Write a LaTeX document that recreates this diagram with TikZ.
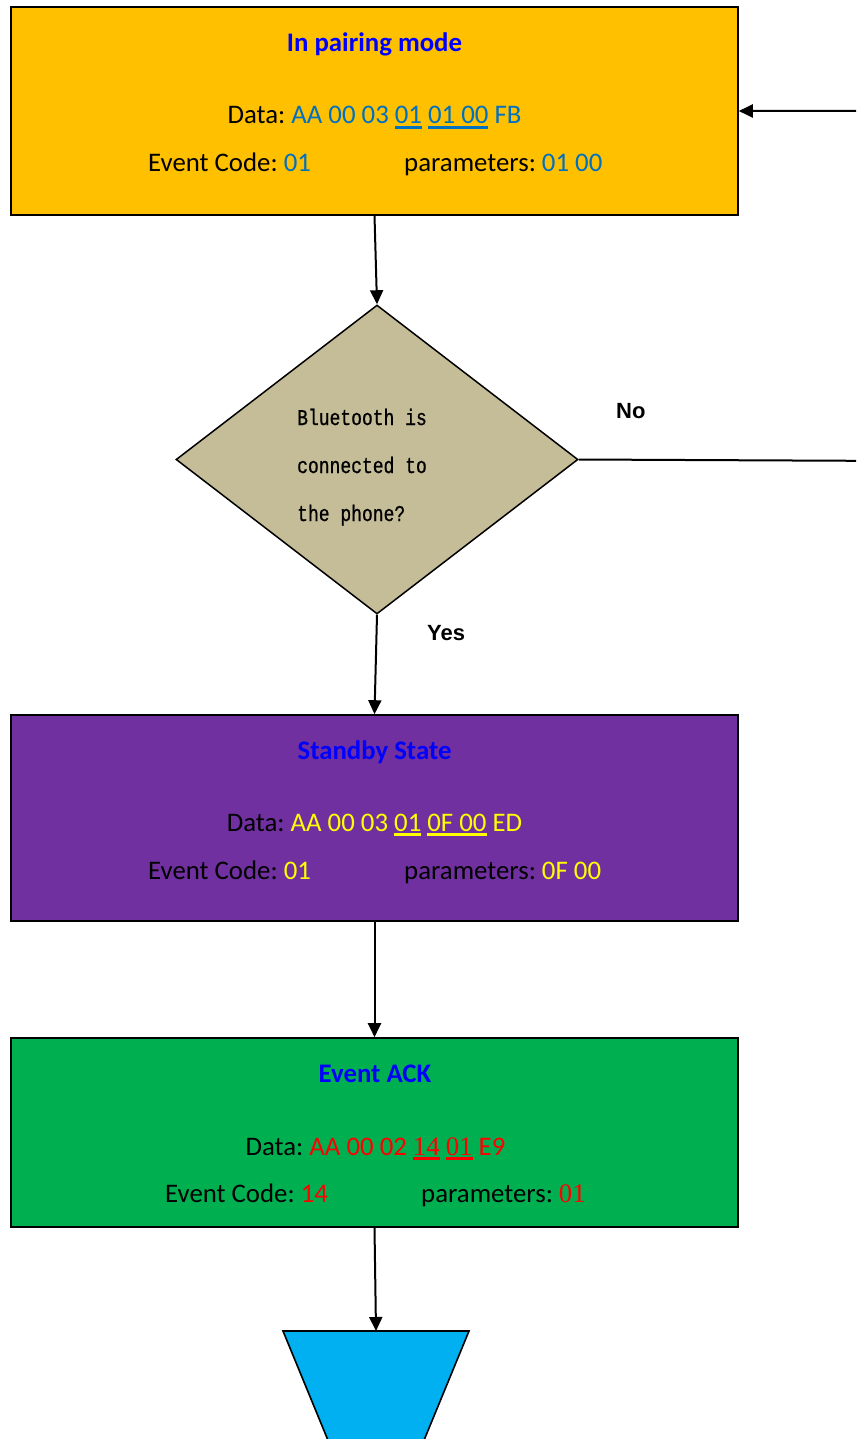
\documentclass[tikz,border=0pt]{standalone}
\usepackage{fontspec}
\setmainfont{Carlito}
\newfontfamily\arialf{Liberation Sans}
\newfontfamily\timesf{Liberation Serif}
\newfontfamily\diaf[FakeStretch=0.8,FakeBold=0.8]{Liberation Mono}
\usetikzlibrary{arrows.meta,shapes.geometric}
\definecolor{gold}{HTML}{FFC000}
\definecolor{tan}{HTML}{C4BD97}
\definecolor{purp}{HTML}{7030A0}
\definecolor{grn}{HTML}{00B050}
\definecolor{cyn}{HTML}{00B0F0}
\definecolor{hexblue}{HTML}{0070C0}
\definecolor{yel}{HTML}{FFFF00}
\definecolor{rd}{HTML}{FF0000}
\definecolor{ttl}{HTML}{0000FF}
\frenchspacing
\newcommand{\ulc}[2]{\setbox0\hbox{#2}\rlap{\textcolor{#1}{\rule[-5pt]{\wd0}{2.6pt}}}\box0\relax}
\tikzset{
  box/.style={draw=black, line width=1.6pt, rectangle, minimum width=727pt, inner sep=0pt},
  ttxt/.style={anchor=base, inner sep=0pt, font=\fontsize{26.8}{30}\selectfont\bfseries, text=ttl},
  dtxt/.style={anchor=base, inner sep=0pt, font=\fontsize{26.8}{30}\selectfont},
  etxt/.style={anchor=base west, inner sep=0pt, font=\fontsize{26.8}{30}\selectfont},
  lbl/.style={anchor=base west, inner sep=0pt, font=\arialf\fontsize{22}{26}\selectfont\bfseries},
  conn/.style={line width=2pt, -{Triangle[length=14pt,width=13pt]}},
}
\begin{document}
\begin{tikzpicture}[x=1pt,y=-1pt]
\useasboundingbox (0,0) rectangle (856,1439);
\clip (0,0) rectangle (856,1439);
% boxes
\node[box, fill=gold, minimum height=208pt] (top) at (374.5,111) {};
\node[draw=black, line width=1.5pt, fill=tan, diamond, aspect=1, inner sep=0pt,
      minimum width=402pt, minimum height=309pt] (dia) at (377,459.5) {};
\node[box, fill=purp, minimum height=206pt] (stb) at (374.5,818) {};
\node[box, fill=grn, minimum height=189pt] (ack) at (374.5,1132.5) {};
\draw[line width=1.6pt, fill=cyn] (283,1331) -- (469,1331) -- (420,1450) -- (332,1450) -- cycle;
\coordinate (trap) at (376,1331);
% top box text
\node[ttxt] (t1) at (374.5,52) {In pairing mode};
\node[dtxt] (d1) at (374.5,124) {Data: \textcolor{hexblue}{AA 00 03 \ulc{hexblue}{01} \ulc{hexblue}{01 00} FB}};
\node[etxt] (e1) at (148,172) {Event Code: \textcolor{hexblue}{01}};
\node[etxt] (p1) at (404,172) {parameters: \textcolor{hexblue}{01 00}};
% diamond text
\node[anchor=base west, inner sep=0pt, align=left, font=\diaf\fontsize{22.5}{48}\selectfont] (q) at (297,521)
  {Bluetooth is\\connected to\\the phone?};
\node[lbl] (no) at (616,418) {No};
\node[lbl] (yes) at (427,640) {Yes};
% standby text
\node[ttxt] (t2) at (374.5,759) {Standby State};
\node[dtxt] (d2) at (374.5,831) {Data: \textcolor{yel}{AA 00 03 \ulc{yel}{01} \ulc{yel}{0F 00} ED}};
\node[etxt] (e2) at (148,879) {Event Code: \textcolor{yel}{01}};
\node[etxt] (p2) at (404,879) {parameters: \textcolor{yel}{0F 00}};
% ack text
\node[ttxt] (t3) at (375,1082) {Event ACK};
\node[dtxt] (d3) at (375.5,1155) {Data: \textcolor{rd}{AA 00 02 \ulc{rd}{\timesf 14} \ulc{rd}{\timesf 01} E9}};
\node[etxt] (e3) at (165,1202) {Event Code: \textcolor{rd}{14}};
\node[etxt] (p3) at (421,1202) {parameters: \textcolor{rd}{\timesf 01}};
% connectors
\draw[conn] (top.south) -- (dia.north);
\draw[conn] (dia.south) -- (stb.north);
\draw[conn] (stb.south) -- (ack.north);
\draw[conn] (ack.south) -- (trap);
\coordinate (far1) at (900,461);
\draw[conn] (dia.east) -- (far1) |- (top.east);
\end{tikzpicture}
\end{document}
